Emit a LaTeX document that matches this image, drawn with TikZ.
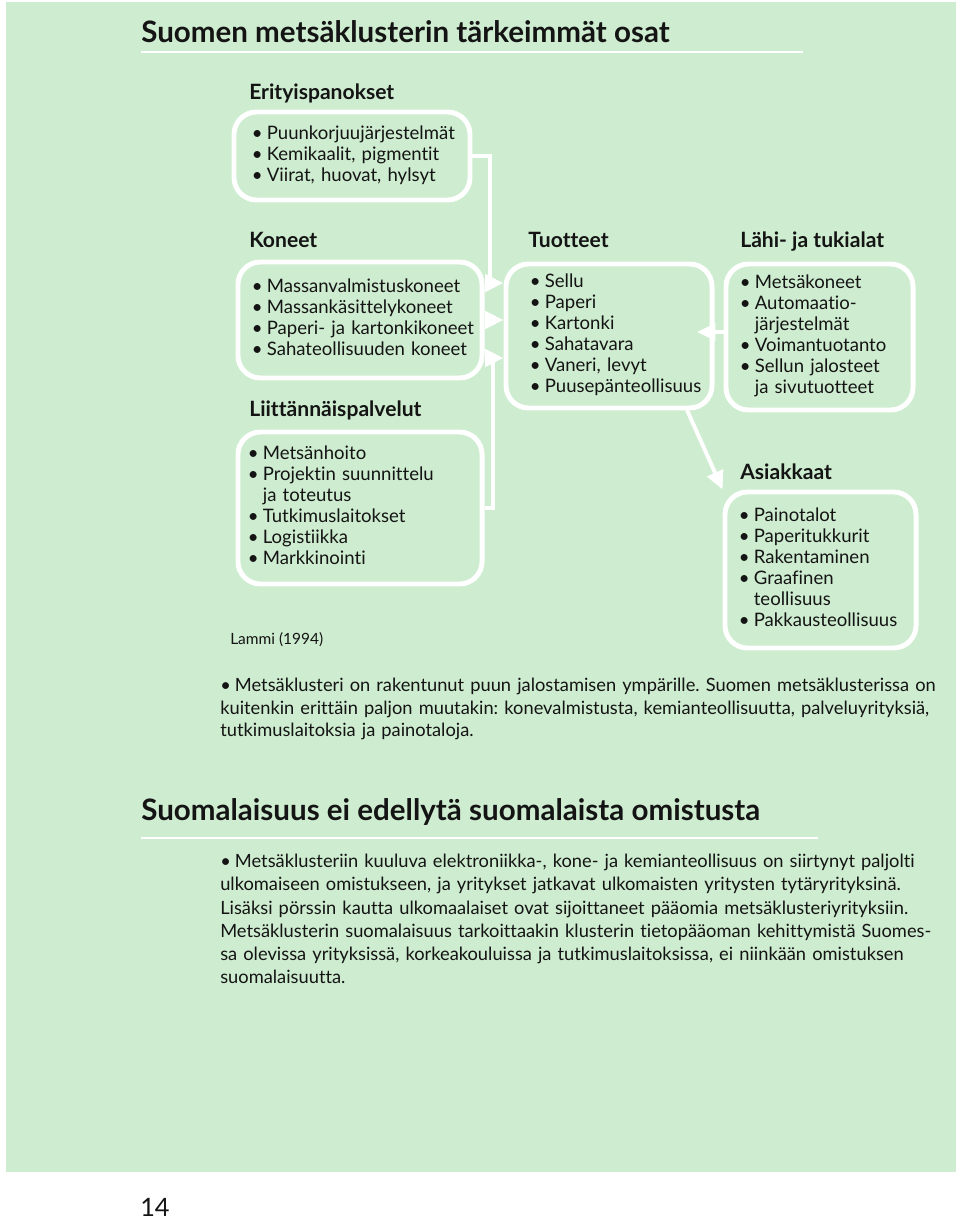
\documentclass[tikz,border=0pt]{standalone}
\usepackage{fontspec}
\setmainfont{Lato}[Ligatures={NoCommon}]
\usetikzlibrary{arrows.meta}
\definecolor{panelgreen}{RGB}{206,236,207}
\definecolor{ink}{RGB}{20,20,20}
\newcommand{\bl}{•\hspace{0.22em}}
\newcommand{\ind}{\hphantom{\bl}}
\newcommand{\lst}[1]{\begin{tabular}{@{}l@{}}#1\end{tabular}}
\frenchspacing

\begin{document}
\begin{tikzpicture}[x=0.025cm,y=-0.025cm,
  box/.style={draw=white,line width=3.5pt,rounded corners=16pt,align=left,
    inner ysep=0pt,text=ink,font=\fontsize{13.2}{15}\selectfont},
  head/.style={anchor=base west,inner sep=0pt,text=ink,font=\fontsize{15}{17}\selectfont\bfseries},
  title/.style={anchor=base west,inner sep=0pt,text=ink,font=\fontsize{21}{24}\selectfont\bfseries},
  para/.style={anchor=north west,inner sep=0pt,text width=18.4cm,align=left,text=ink},
  conn/.style={draw=white,line width=2.8pt,-{Triangle[length=13pt,width=12pt]}},
  rule/.style={draw=white,line width=1.5pt}]
\useasboundingbox (0,0) rectangle (960,1220);
\fill[white] (0,0) rectangle (960,1220);
\fill[panelgreen] (6,2) rectangle (956,1172);

% otsikko
\node[title] (t1) at (141,43) {Suomen metsäklusterin tärkeimmät osat};
\draw[rule] (141,52) -- (803,52);

% vasen sarake
\node[head] (h1) at (249,99.5) {Erityispanokset};
\node[box,text width=5.0cm,inner xsep=0.45cm,minimum height=2.2cm] (b1) at (352,156)
  {\lst{\bl Puunkorjuujärjestelmät\\\bl Kemikaalit, pigmentit\\\bl Viirat, huovat, hylsyt}};
\node[head] (h2) at (249,247.5) {Koneet};
\node[box,text width=5.4cm,inner xsep=0.35cm,minimum height=2.9cm] (b2) at (360,320)
  {\lst{\bl Massanvalmistuskoneet\\\bl Massankäsittelykoneet\\\bl Paperi- ja kartonkikoneet\\\bl Sahateollisuuden koneet}};
\node[head] (h3) at (249,416.5) {Liittännäispalvelut};
\node[box,text width=5.6cm,inner xsep=0.25cm,minimum height=3.8cm] (b3) at (360,508)
  {\lst{\bl Metsänhoito\\\bl Projektin suunnittelu\\\ind ja toteutus\\\bl Tutkimuslaitokset\\\bl Logistiikka\\\bl Markkinointi}};
\node[anchor=base west,inner sep=0pt,text=ink,font=\fontsize{11}{12}\selectfont] (src) at (230,644) {Lammi (1994)};

% keskimmäinen
\node[head] (h4) at (528,247.5) {Tuotteet};
\node[box,text width=3.95cm,inner xsep=0.6cm,minimum height=3.6cm] (b4) at (609,336)
  {\lst{\bl Sellu\\\bl Paperi\\\bl Kartonki\\\bl Sahatavara\\\bl Vaneri, levyt\\\bl Puusepänteollisuus}};

% oikea sarake
\node[head] (h5) at (740,247.5) {Lähi- ja tukialat};
\node[box,text width=3.975cm,inner xsep=0.35cm,minimum height=3.65cm] (b5) at (819.5,337)
  {\lst{\bl Metsäkoneet\\\bl Automaatio-\\\ind järjestelmät\\\bl Voimantuotanto\\\bl Sellun jalosteet\\\ind ja sivutuotteet}};
\node[head] (h6) at (740,479.5) {Asiakkaat};
\node[box,text width=4.075cm,inner xsep=0.35cm,minimum height=3.9cm] (b6) at (820.5,570)
  {\lst{\bl Painotalot\\\bl Paperitukkurit\\\bl Rakentaminen\\\bl Graafinen\\\ind teollisuus\\\bl Pakkausteollisuus}};

% nuolet
\coordinate (j1) at (490,156);
\coordinate (j2) at (493,358);
\draw[conn] (b1.east) -- (j1) |- (b4.west |- 0,283);
\draw[conn] (b2.east) -- (b4.west |- b2.east);
\draw[conn] (b3.east) -| (j2) -- (b4.west |- j2);
\draw[conn] (b5.west |- 0,332) -- (697,332);
\draw[conn] (687,410) -- (b6.north west);

% teksti
\node[para,font=\fontsize{13}{16}\selectfont] (p1) at (220,678)
  {\bl Metsäklusteri on rakentunut puun jalostamisen ympärille. Suomen metsäklusterissa on\\
   kuitenkin erittäin paljon muutakin: konevalmistusta, kemianteollisuutta, palveluyrityksiä,\\
   tutkimuslaitoksia ja painotaloja.};

\node[title] (t2) at (141,820) {Suomalaisuus ei edellytä suomalaista omistusta};
\draw[rule] (141,838) -- (818,838);

\node[para,font=\fontsize{13}{16.5}\selectfont] (p2) at (220,854)
  {\bl Metsäklusteriin kuuluva elektroniikka-, kone- ja kemianteollisuus on siirtynyt paljolti\\
   ulkomaiseen omistukseen, ja yritykset jatkavat ulkomaisten yritysten tytäryrityksinä.\\
   Lisäksi pörssin kautta ulkomaalaiset ovat sijoittaneet pääomia metsäklusteriyrityksiin.\\
   Metsäklusterin suomalaisuus tarkoittaakin klusterin tietopääoman kehittymistä Suomes-\\
   sa olevissa yrityksissä, korkeakouluissa ja tutkimuslaitoksissa, ei niinkään omistuksen\\
   suomalaisuutta.};

\node[anchor=base west,inner sep=0pt,text=ink,font=\fontsize{18}{20}\selectfont] (pg) at (140,1216) {14};
\end{tikzpicture}
\end{document}
